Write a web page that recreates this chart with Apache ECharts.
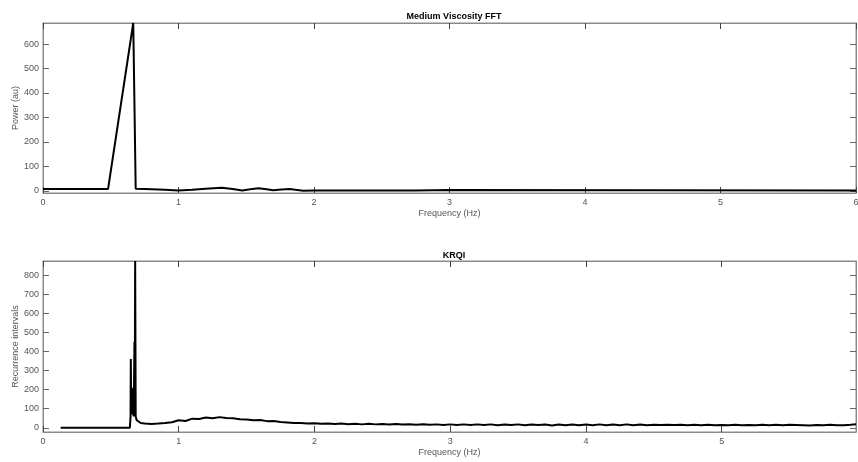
<!DOCTYPE html>
<html lang="en">
<head>
    <meta charset="UTF-8">
    <title>Medium Viscosity FFT / KRQI</title>
    <script src="https://cdn.jsdelivr.net/npm/echarts@6/dist/echarts.min.js"></script>
    <style>
        body { margin: 0; background: #fff; }
    </style>
</head>
<body>
<div id="main" style="width:858px; height:462px;"></div>
<script>
    // FFT power spectrum (top panel)
    var fftFreq  = [0, 0.48, 0.666, 0.675, 0.684, 0.75, 0.9, 1.0, 1.1, 1.2, 1.32, 1.4, 1.47, 1.53, 1.59, 1.65, 1.70, 1.76, 1.82, 1.92, 2.0, 2.75, 2.76, 3.0, 3.01, 6.0];
    var fftPower = [7, 7, 686, 350, 8, 7, 4, 1, 4, 8, 12, 7, 1, 6, 10, 6, 2, 5, 7, 0, 1, 1, 3, 3, 1, 1];

    // KRQI recurrence intervals (bottom panel) - spike region
    var krqiFreq = [0.13, 0.64, 0.645, 0.647, 0.650, 0.655, 0.658, 0.662, 0.668, 0.674, 0.676, 0.679, 0.683, 0.69, 0.70, 0.72];
    var krqiVal  = [0, 0, 60, 361, 80, 210, 70, 100, 60, 452, 90, 875, 60, 40, 30, 25];
    // KRQI tail, sampled every 0.05 Hz from 0.75 Hz
    var tailStart = 0.75, tailStep = 0.05;
    var krqiTail = [
        22, 20, 22, 25, 29, 40, 36, 48, 46, 54, 50, 56, 52, 50, 45, 44, 40, 41, 35, 36,
        30, 28, 25, 25, 23, 24, 21, 23, 20, 22, 19, 21, 18, 21, 18, 20, 17, 20, 17, 19,
        16, 19, 16, 18, 15, 18, 15, 18, 15, 18, 15, 18, 14, 17, 15, 18, 14, 17, 15, 17,
        12, 17, 14, 17, 13, 17, 13, 18, 13, 17, 13, 18, 13, 17, 14, 16, 15, 16, 15, 16,
        14, 16, 14, 16, 13, 15, 13, 16, 14, 15, 13, 16, 14, 16, 13, 16, 15, 14, 12, 15,
        13, 16, 13, 14, 16
    ];
    var krqiEnd = [5.99, 19];

    var freqTicks = [0, 1, 2, 3, 4, 5, 6];
    var krqiFreqTicks = [0, 1, 2, 3, 4, 5];
    var powerTicks = [0, 100, 200, 300, 400, 500, 600];
    var krqiTicks = [0, 100, 200, 300, 400, 500, 600, 700, 800];

    var fftData = fftFreq.map(function (f, i) { return [f, fftPower[i]]; });
    var krqiData = krqiFreq.map(function (f, i) { return [f, krqiVal[i]]; });
    krqiTail.forEach(function (v, i) {
        krqiData.push([+(tailStart + i * tailStep).toFixed(3), v]);
    });
    krqiData.push(krqiEnd);

    var fontFam = 'Liberation Sans, Arial, sans-serif';
    var labelFont = { color: '#555', fontSize: 9, fontFamily: fontFam };
    var frame = '#8a8a8a';

    function xAx(grid, pos, max, ticks, withLabel) {
        return {
            type: 'value', gridIndex: grid, position: pos, min: 0, max: max,
            name: withLabel ? 'Frequency (Hz)' : '',
            nameLocation: 'middle', nameGap: 16, nameMoveOverlap: false,
            nameTextStyle: labelFont,
            axisLine: { show: true, onZero: false, lineStyle: { color: frame, width: 1 } },
            axisTick: { show: true, inside: true, length: 6, customValues: ticks, lineStyle: { color: '#444' } },
            axisLabel: { show: withLabel, customValues: ticks, margin: 5, color: '#555', fontSize: 9, fontFamily: fontFam },
            splitLine: { show: false }
        };
    }
    function yAx(grid, pos, min, max, ticks, name) {
        return {
            type: 'value', gridIndex: grid, position: pos, min: min, max: max,
            name: name, nameLocation: 'middle', nameGap: 23, nameMoveOverlap: false,
            nameTextStyle: labelFont,
            axisLine: { show: true, onZero: false, lineStyle: { color: frame, width: 1 } },
            axisTick: { show: true, inside: true, length: 6, customValues: ticks, lineStyle: { color: '#666' } },
            axisLabel: { show: !!name, customValues: ticks, margin: 4, color: '#555', fontSize: 9, fontFamily: fontFam },
            splitLine: { show: false }
        };
    }

    var myChart = echarts.init(document.getElementById('main'), null, { renderer: 'canvas' });
    var option = {
        animation: false,
        backgroundColor: '#fff',
        title: [
            { text: 'Medium Viscosity FFT', left: 449, top: 7, textAlign: 'center',
              textStyle: { fontSize: 9, fontWeight: 'bold', color: '#000', fontFamily: fontFam } },
            { text: 'KRQI', left: 449, top: 246, textAlign: 'center',
              textStyle: { fontSize: 9, fontWeight: 'bold', color: '#000', fontFamily: fontFam } }
        ],
        grid: [
            { left: 43, right: 2, top: 23, height: 170, show: true, borderColor: frame, borderWidth: 1, outerBoundsMode: 'none', containLabel: false },
            { left: 43, right: 2, top: 261, height: 171, show: true, borderColor: frame, borderWidth: 1, outerBoundsMode: 'none', containLabel: false }
        ],
        xAxis: [
            xAx(0, 'bottom', 6, freqTicks, true),
            xAx(0, 'top', 6, freqTicks, false),
            xAx(1, 'bottom', 5.99, krqiFreqTicks, true),
            xAx(1, 'top', 5.99, krqiFreqTicks, false)
        ],
        yAxis: [
            yAx(0, 'left', -9, 686, powerTicks, 'Power (au)'),
            yAx(0, 'right', -9, 686, powerTicks, ''),
            yAx(1, 'left', -22, 875, krqiTicks, 'Recurrence intervals'),
            yAx(1, 'right', -22, 875, krqiTicks, '')
        ],
        series: [
            {
                name: 'FFT', type: 'line', xAxisIndex: 0, yAxisIndex: 0,
                data: fftData, showSymbol: false, symbol: 'none',
                lineStyle: { color: '#000', width: 2 }
            },
            {
                name: 'KRQI', type: 'line', xAxisIndex: 2, yAxisIndex: 2,
                data: krqiData, showSymbol: false, symbol: 'none',
                lineStyle: { color: '#000', width: 2 }
            }
        ]
    };
    myChart.setOption(option);
</script>
</body>
</html>
